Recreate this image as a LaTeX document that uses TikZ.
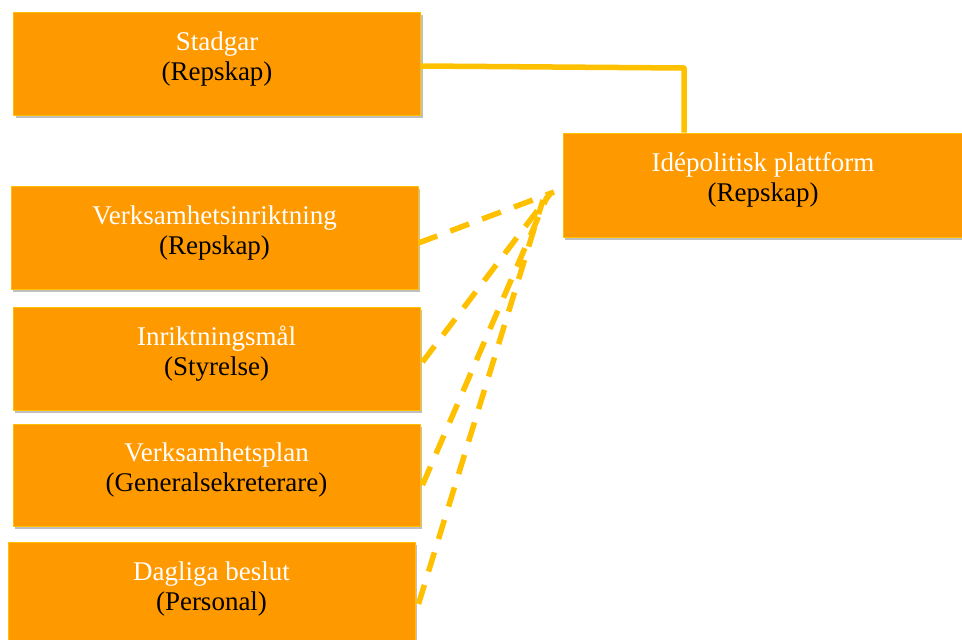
\documentclass[tikz,border=0pt]{standalone}
\usepackage{fontspec}
\setmainfont{Liberation Serif}
\usetikzlibrary{shadows}
\definecolor{boxorange}{HTML}{FF9900}
\definecolor{linegold}{HTML}{FFC000}

\begin{document}
\begin{tikzpicture}[x=1pt,y=-1pt,line join=round,
  box/.style={draw=linegold,line width=1pt,fill=boxorange,minimum width=407pt,minimum height=103pt,
    align=center,inner sep=0pt,text height=49pt,text depth=16pt,font=\fontsize{27}{30}\selectfont,
    drop shadow={shadow xshift=2pt,shadow yshift=-3pt,opacity=0.25,fill=black}},
  link/.style={linegold,line width=5.5pt},
  dashlink/.style={link,dash pattern=on 20pt off 14pt}]
  \clip (0,0) rectangle (962,640);

  \node[box] (stadgar) at (217,63.5) {\textcolor{white}{Stadgar}\\(Repskap)};
  \node[box,minimum width=400pt,minimum height=104pt] (ide) at (763,185) {\textcolor{white}{Idépolitisk plattform}\\(Repskap)};
  \node[box] (inrikt) at (214.5,237.5) {\textcolor{white}{Verksamhetsinriktning}\\(Repskap)};
  \node[box] (mal) at (216.5,358.5) {\textcolor{white}{Inriktningsmål}\\(Styrelse)};
  \node[box,minimum height=102pt] (plan) at (216.5,475) {\textcolor{white}{Verksamhetsplan}\\(Generalsekreterare)};
  \node[box] (beslut) at (211.5,593.5) {\textcolor{white}{Dagliga beslut}\\(Personal)};

  % solid link
  \coordinate (bend) at (684,68);
  \draw[link] ([yshift=-2.5pt]stadgar.east) -- (bend) -- (bend |- ide.north);

  % dashed links
  \coordinate (t1) at (554,192);
  \coordinate (t2) at (550,194);
  \coordinate (t3) at (547,197);
  \coordinate (t4) at (543,200);
  \draw[dashlink] ([yshift=-5.5pt]inrikt.east) -- (t1);
  \draw[dashlink] ([xshift=2pt,yshift=-3.5pt]mal.east) -- (t2);
  \draw[dashlink] ([xshift=2pt,yshift=-10pt]plan.east) -- (t3);
  \draw[dashlink] ([xshift=3pt,yshift=-10.5pt]beslut.east) -- (t4);
\end{tikzpicture}
\end{document}
